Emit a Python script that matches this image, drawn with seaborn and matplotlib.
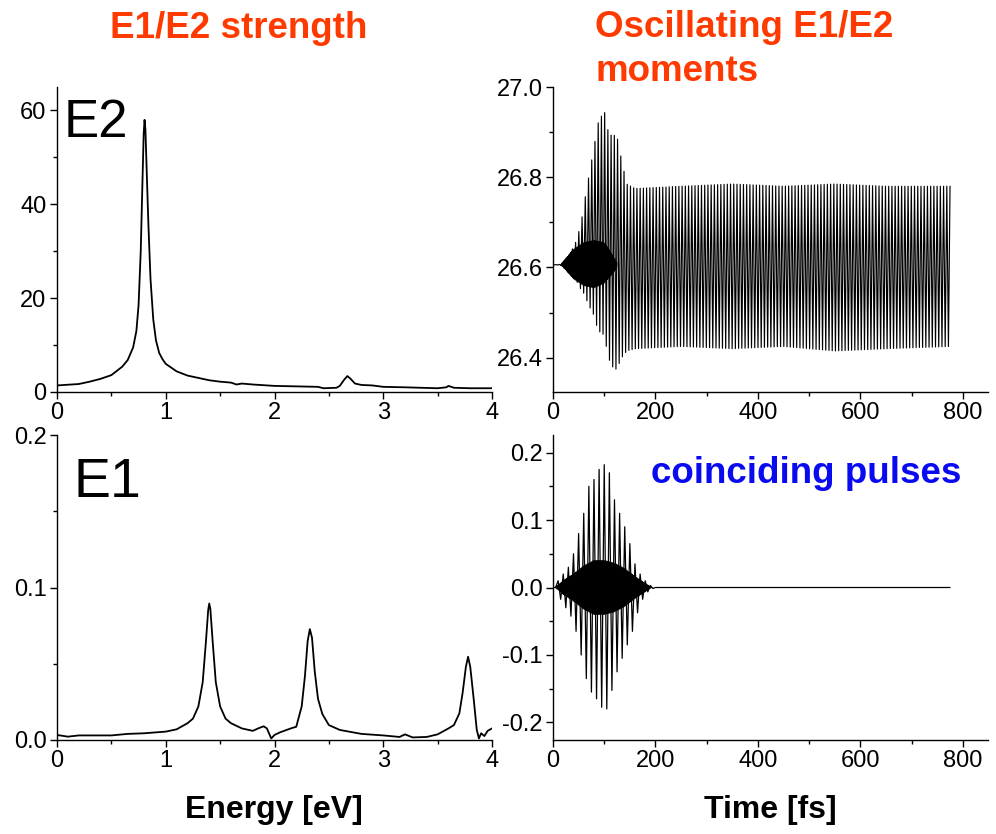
import numpy as np
import matplotlib
matplotlib.use("Agg")
import matplotlib.pyplot as plt
import seaborn as sns
from matplotlib.ticker import MultipleLocator, FixedLocator, FixedFormatter

# ---------------- data ----------------
# E2 strength spectrum (top left)
e2_energy = [0.0, 0.2, 0.3, 0.4, 0.5, 0.6, 0.65, 0.7, 0.73, 0.75, 0.77, 0.785, 0.797,
             0.805, 0.813, 0.825, 0.84, 0.86, 0.885, 0.91, 0.94, 0.97, 1.0, 1.1, 1.2,
             1.3, 1.4, 1.5, 1.6, 1.65, 1.7, 1.8, 2.0, 2.2, 2.4, 2.45, 2.57, 2.6, 2.64,
             2.67, 2.7, 2.74, 2.8, 2.9, 3.0, 3.2, 3.5, 3.58, 3.6, 3.65, 3.8, 4.0]
e2_strength = [1.4, 1.7, 2.2, 2.8, 3.6, 5.4, 6.8, 9.5, 13.0, 18.5, 30.0, 44.0, 55.0,
               58.0, 56.0, 47.0, 36.0, 24.0, 15.5, 11.0, 8.3, 7.0, 6.0, 4.4, 3.5,
               3.0, 2.5, 2.2, 2.0, 1.6, 1.8, 1.6, 1.3, 1.2, 1.1, 0.8, 0.9, 1.3, 2.6,
               3.4, 2.8, 1.8, 1.5, 1.4, 1.1, 1.0, 0.8, 1.0, 1.3, 0.9, 0.8, 0.8]

# E1 strength spectrum (bottom left)
e1_energy = [0.0, 0.1, 0.2, 0.5, 0.65, 0.8, 1.0, 1.1, 1.2, 1.25, 1.3, 1.34, 1.37, 1.39,
             1.40, 1.41, 1.43, 1.46, 1.5, 1.55, 1.6, 1.7, 1.8, 1.85, 1.9, 1.93, 1.97,
             2.0, 2.05, 2.15, 2.2, 2.25, 2.28, 2.305, 2.325, 2.345, 2.37, 2.4, 2.44,
             2.5, 2.6, 2.8, 3.0, 3.15, 3.2, 3.27, 3.4, 3.5, 3.6, 3.65, 3.7, 3.73, 3.76,
             3.78, 3.8, 3.83, 3.86, 3.88, 3.9, 3.93, 3.96, 4.0]
e1_strength = [0.0033, 0.0022, 0.003, 0.003, 0.004, 0.0044, 0.0055, 0.007, 0.011, 0.014,
               0.022, 0.038, 0.065, 0.085, 0.0895, 0.086, 0.066, 0.038, 0.022, 0.014,
               0.011, 0.0076, 0.006, 0.0076, 0.009, 0.0076, 0.001, 0.0033, 0.005, 0.0076,
               0.0087, 0.022, 0.042, 0.065, 0.0727, 0.067, 0.045, 0.027, 0.017, 0.0098,
               0.0066, 0.004, 0.003, 0.002, 0.0037, 0.0017, 0.002, 0.0037, 0.0076, 0.0098,
               0.0175, 0.031, 0.048, 0.0546, 0.048, 0.028, 0.0066, 0.001, 0.0044, 0.0026,
               0.006, 0.0076]

# E2 moment oscillation (top right): envelope of the oscillation
e2m_time = [0, 15, 20, 33, 46, 55, 62, 68, 79, 88, 100, 108, 116, 124, 134, 144, 160,
            250, 350, 450, 550, 650, 775]
e2m_upper = [26.606, 26.607, 26.612, 26.63, 26.66, 26.70, 26.75, 26.79, 26.86, 26.92,
             26.948, 26.90, 26.89, 26.896, 26.837, 26.785, 26.775, 26.78, 26.785, 26.78,
             26.785, 26.78, 26.78]
e2m_lower = [26.606, 26.605, 26.60, 26.585, 26.57, 26.55, 26.54, 26.52, 26.496, 26.46,
             26.45, 26.40, 26.38, 26.374, 26.40, 26.415, 26.42, 26.425, 26.42, 26.425,
             26.415, 26.42, 26.425]
# dense inner band during the pulse (top right)
e2m_band_time = [15, 25, 40, 60, 80, 100, 115, 125]
e2m_band_upper = [26.606, 26.62, 26.64, 26.655, 26.66, 26.655, 26.63, 26.61]
e2m_band_lower = [26.606, 26.595, 26.575, 26.56, 26.555, 26.565, 26.585, 26.60]
e2m_period = 6.3      # fs, apparent period of the E2 oscillation
e2m_end = 775

# E1 moment (bottom right): spike envelope and dense inner band
e1m_time = [0, 5, 10, 20, 30, 40, 50, 60, 70, 80, 90, 100, 110, 120, 130, 140, 150,
            160, 170, 180, 190, 200, 775]
e1m_upper = [0.0, 0.0, 0.01, 0.02, 0.03, 0.05, 0.08, 0.11, 0.15, 0.16, 0.175, 0.182,
             0.17, 0.13, 0.11, 0.09, 0.065, 0.035, 0.02, 0.01, 0.003, 0.0, 0.0]
e1m_lower = [0.0, 0.0, -0.01, -0.025, -0.035, -0.05, -0.08, -0.12, -0.15, -0.16, -0.17,
             -0.185, -0.175, -0.13, -0.12, -0.09, -0.08, -0.05, -0.025, -0.01, -0.003,
             0.0, 0.0]
e1m_band_time = [5, 20, 40, 60, 80, 100, 120, 140, 160, 180, 192]
e1m_band_upper = [0.0, 0.01, 0.02, 0.032, 0.04, 0.04, 0.036, 0.028, 0.016, 0.006, 0.0]
e1m_band_lower = [0.0, -0.01, -0.02, -0.032, -0.04, -0.04, -0.036, -0.028, -0.016, -0.006, 0.0]
e1m_period = 10.0     # fs, spike period
e1m_end = 775

# tick labels
e_ticks = [0, 1, 2, 3, 4]
e_ticklabels = ["0", "1", "2", "3", "4"]
t_ticks = [0, 200, 400, 600, 800]
t_ticklabels = ["0", "200", "400", "600", "800"]
e2_yticks = [0, 20, 40, 60]
e2_yticklabels = ["0", "20", "40", "60"]
e1_yticks = [0.0, 0.1, 0.2]
e1_yticklabels = ["0.0", "0.1", "0.2"]
e2m_yticks = [26.4, 26.6, 26.8, 27.0]
e2m_yticklabels = ["26.4", "26.6", "26.8", "27.0"]
e1m_yticks = [-0.2, -0.1, 0.0, 0.1, 0.2]
e1m_yticklabels = ["-0.2", "-0.1", "0.0", "0.1", "0.2"]

# ---------------- helpers ----------------
def zigzag(t_env, up, lo, t0, t1, half):
    tc = np.arange(t0, t1 + 1e-9, half)
    u = np.interp(tc, t_env, up)
    l = np.interp(tc, t_env, lo)
    y = np.where(np.arange(len(tc)) % 2 == 0, u, l)
    return tc, y

# ---------------- style ----------------
sns.set_theme(style="ticks")
plt.rcParams["font.family"] = ["Liberation Sans", "DejaVu Sans"]
plt.rcParams["axes.unicode_minus"] = False
for k in ["text.color", "axes.labelcolor", "xtick.color", "ytick.color", "axes.edgecolor"]:
    plt.rcParams[k] = "black"

W, H = 996, 834
fig = plt.figure(figsize=(W / 100, H / 100), dpi=100)

def add_axes(x0, y_top, x1, y_bot):
    return fig.add_axes([x0 / W, 1 - y_bot / H, (x1 - x0) / W, (y_bot - y_top) / H])

ax_e2 = add_axes(57, 87, 492, 392)
ax_e1 = add_axes(57, 435, 492, 740)
ax_m2 = add_axes(553, 87, 988, 392)
ax_m1 = add_axes(553, 435, 988, 740)

# ---------------- plots ----------------
sns.lineplot(x=e2_energy, y=e2_strength, ax=ax_e2, color="black", linewidth=1.3,
             estimator=None, sort=False)
sns.lineplot(x=e1_energy, y=e1_strength, ax=ax_e1, color="black", linewidth=1.3,
             estimator=None, sort=False)

tx, ty = zigzag(e2m_time, e2m_upper, e2m_lower, 0, e2m_end, e2m_period / 2)
sns.lineplot(x=tx, y=ty, ax=ax_m2, color="black", linewidth=0.85, estimator=None, sort=False)
bx, by = zigzag(e2m_band_time, e2m_band_upper, e2m_band_lower, 15, 125, 1.1)
sns.lineplot(x=bx, y=by, ax=ax_m2, color="black", linewidth=0.8, estimator=None, sort=False)

tx, ty = zigzag(e1m_time, e1m_upper, e1m_lower, 0, e1m_end, e1m_period / 2)
sns.lineplot(x=tx, y=ty, ax=ax_m1, color="black", linewidth=0.9, estimator=None, sort=False)
bx, by = zigzag(e1m_band_time, e1m_band_upper, e1m_band_lower, 5, 192, 1.1)
sns.lineplot(x=bx, y=by, ax=ax_m1, color="black", linewidth=0.8, estimator=None, sort=False)

# ---------------- axes formatting ----------------
def fmt(ax, xlim, ylim, xt, xtl, xminor, yt, ytl, yminor):
    ax.set_xlim(*xlim)
    ax.set_ylim(*ylim)
    ax.xaxis.set_major_locator(FixedLocator(xt))
    ax.xaxis.set_major_formatter(FixedFormatter(xtl))
    ax.yaxis.set_major_locator(FixedLocator(yt))
    ax.yaxis.set_major_formatter(FixedFormatter(ytl))
    ax.xaxis.set_minor_locator(MultipleLocator(xminor))
    ax.yaxis.set_minor_locator(MultipleLocator(yminor))
    sns.despine(ax=ax)
    for s in ["left", "bottom"]:
        ax.spines[s].set_linewidth(1.0)
        ax.spines[s].set_color("black")
    ax.tick_params(which="major", direction="out", length=5, width=1.0,
                   labelsize=17, pad=2.5, colors="black")
    ax.tick_params(which="minor", direction="out", length=3, width=1.0, colors="black")
    ax.set_xlabel("")
    ax.set_ylabel("")
    ax.grid(False)

fmt(ax_e2, (0, 4), (0, 65), e_ticks, e_ticklabels, 0.5, e2_yticks, e2_yticklabels, 10)
fmt(ax_e1, (0, 4), (0, 0.2), e_ticks, e_ticklabels, 0.5, e1_yticks, e1_yticklabels, 0.05)
fmt(ax_m2, (0, 849), (26.324, 27.0), t_ticks, t_ticklabels, 100,
    e2m_yticks, e2m_yticklabels, 0.1)
fmt(ax_m1, (0, 849), (-0.226, 0.226), t_ticks, t_ticklabels, 100,
    e1m_yticks, e1m_yticklabels, 0.05)

# ---------------- text ----------------
red = "#FF3A00"
blue = "#0A0AF0"
fig.text(239 / W, 1 - 38 / H, "E1/E2 strength", color=red, fontsize=26.5,
         fontweight="bold", ha="center", va="baseline")
fig.text(595 / W, 1 - 37 / H, "Oscillating E1/E2", color=red, fontsize=26.5,
         fontweight="bold", ha="left", va="baseline")
fig.text(595 / W, 1 - 81 / H, "moments", color=red, fontsize=26.5,
         fontweight="bold", ha="left", va="baseline")
fig.text(806 / W, 1 - 483 / H, "coinciding pulses", color=blue, fontsize=26.5,
         fontweight="bold", ha="center", va="baseline")
fig.text(64 / W, 1 - 137 / H, "E2", color="black", fontsize=38, ha="left", va="baseline")
fig.text(74 / W, 1 - 497 / H, "E1", color="black", fontsize=40, ha="left", va="baseline")
fig.text(274 / W, 1 - 818 / H, "Energy [eV]", color="black", fontsize=23,
         fontweight="bold", ha="center", va="baseline")
fig.text(770 / W, 1 - 818 / H, "Time [fs]", color="black", fontsize=23,
         fontweight="bold", ha="center", va="baseline")

fig.savefig("out.png", dpi=100)
